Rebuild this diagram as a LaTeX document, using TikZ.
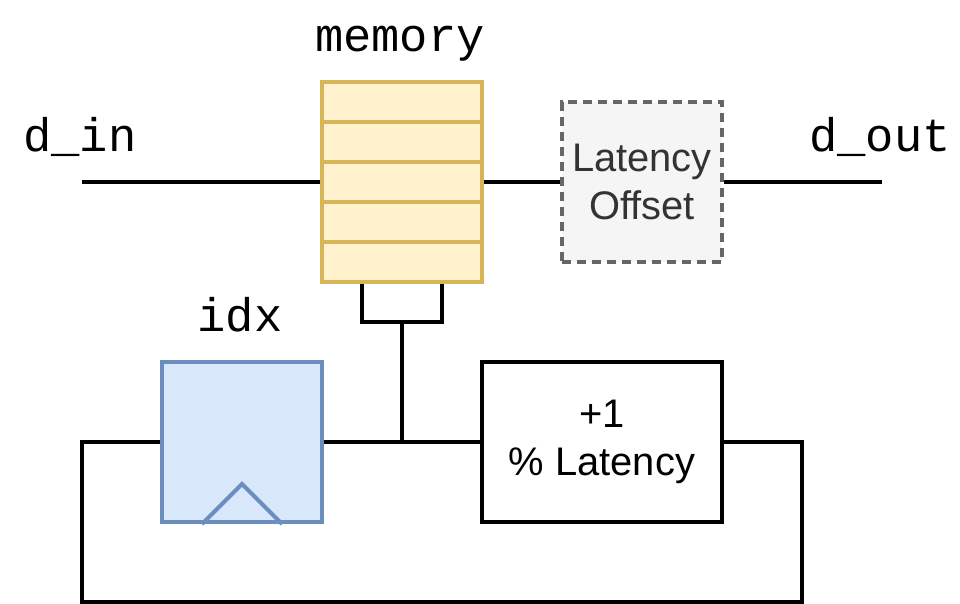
\documentclass[tikz,border=0pt]{standalone}
\usepackage{fontspec}
\setsansfont{Liberation Sans}
\newfontfamily\codefont{Liberation Mono}
\usetikzlibrary{positioning,calc}
\definecolor{MemFill}{HTML}{FFF2CC}
\definecolor{MemLine}{HTML}{D6B656}
\definecolor{RegFill}{HTML}{DAE8FC}
\definecolor{RegLine}{HTML}{6C8EBF}
\definecolor{OffFill}{HTML}{F5F5F5}
\definecolor{OffLine}{HTML}{666666}
\definecolor{OffText}{HTML}{333333}

\begin{document}
\begin{tikzpicture}[x=0.01cm,y=-0.01cm,line width=1.13pt,
    cell/.style={draw=MemLine,fill=MemFill,minimum width=1.6cm,minimum height=0.4cm,inner sep=0pt},
    sig/.style={font=\codefont\fontsize{13.4}{16}\selectfont,anchor=base},
    txt/.style={font=\sffamily\fontsize{11.34}{13.7}\selectfont,align=center}]
  \useasboundingbox (0,0) rectangle (960,604);
  % memory cells
  \foreach \i in {1,...,5} {\node[cell] (mem\i) at (402,62+40*\i) {};}
  \node[sig] (memlbl) at (400,52) {memory};
  \node[sig] (dinlbl) at (80,152) {d\_in};
  \node[sig] (doutlbl) at (880,152) {d\_out};
  \node[sig] (idxlbl) at (240,332) {idx};
  % boxes
  \node[txt,draw=OffLine,fill=OffFill,text=OffText,dash pattern=on 0.09cm off 0.06cm,
    minimum width=1.6cm,minimum height=1.6cm,inner sep=0pt] (lat) at (642,182) {Latency\\Offset};
  \node[draw=RegLine,fill=RegFill,minimum width=1.6cm,minimum height=1.6cm,inner sep=0pt] (idx) at (242,442) {};
  \draw[RegLine] ($(idx.south)+(-40,0)$) -- ++(40,-40) -- ++(40,40);
  \node[txt,draw,minimum width=2.4cm,minimum height=1.6cm,inner sep=0pt] (inc) at (602,442) {+1\\\% Latency};
  \coordinate (din) at (82,182);
  \coordinate (dout) at (882,182);
  \coordinate (tap) at (402,322);
  \coordinate (junc) at (402,442);
  \coordinate (fbR) at (802,602);
  \coordinate (fbL) at (82,602);
  % wires
  \draw (din) -- (mem3.west);
  \draw (mem3.east) -- (lat.west);
  \draw (lat.east) -- (dout);
  \draw ($(mem5.south)+(-40,0)$) |- (tap) -| ($(mem5.south)+(40,0)$);
  \draw (tap) -- (junc);
  \draw (idx.east) -- (inc.west);
  \draw (inc.east) -| (fbR) -- (fbL) |- (idx.west);
\end{tikzpicture}
\end{document}
